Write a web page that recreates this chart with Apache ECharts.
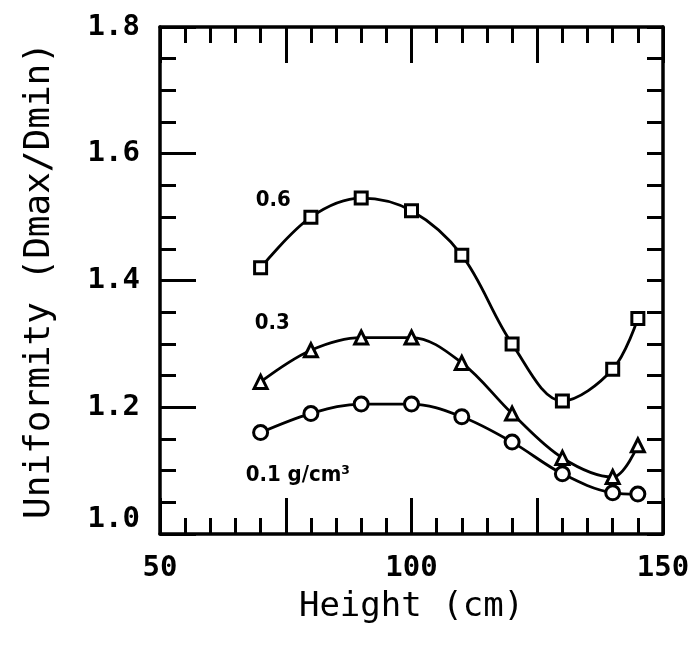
<!DOCTYPE html>
<html>
<head>
<meta charset="utf-8">
<script src="https://cdn.jsdelivr.net/npm/echarts@6/dist/echarts.min.js"></script>
<style>
  html, body { margin: 0; padding: 0; background: #fff; }
  #chart { width: 700px; height: 648px; }
</style>
</head>
<body>
<div id="chart"></div>
<script>
// Heights (cm) at which uniformity was measured
const heights = [70, 80, 90, 100, 110, 120, 130, 140, 145];
// Uniformity Dmax/Dmin for each product density
const density06 = [1.42, 1.50, 1.53, 1.51, 1.44, 1.30, 1.21, 1.26, 1.34];
const density03 = [1.24, 1.29, 1.31, 1.31, 1.27, 1.19, 1.12, 1.09, 1.14];
const density01 = [1.16, 1.19, 1.205, 1.205, 1.185, 1.145, 1.095, 1.065, 1.063];
// Tick labels
const xTickLabels = [50, 100, 150];
const yTickLabels = [1.0, 1.2, 1.4, 1.6, 1.8];
// Curve labels and their centre points (height, uniformity)
const curveLabels = ['0.6', '0.3', '0.1 g/cm³'];
const curveLabelAnchors = [[72.5, 1.527], [72.3, 1.333], [77.4, 1.092]];

const axisFont = 'DejaVu Sans Mono';
const ink = '#000';

function pairs(vals) { return heights.map((h, i) => [h, vals[i]]); }

function frameX(position, labels) {
  return {
    type: 'value', min: 50, max: 150, interval: 25, position: position,
    axisLine: { onZero: false, lineStyle: { color: ink, width: 3.5 } },
    axisTick: { inside: true, length: 36, lineStyle: { color: ink, width: 3 } },
    minorTick: { show: true, splitNumber: 5, length: 16, lineStyle: { color: ink, width: 3 } },
    splitLine: { show: false }, minorSplitLine: { show: false },
    axisLabel: labels ? {
      margin: 20, color: ink, fontFamily: axisFont, fontSize: 29, fontWeight: 'bold',
      formatter: v => xTickLabels.includes(v) ? String(v) : ''
    } : { show: false },
    name: labels ? 'Height (cm)' : '',
    nameLocation: 'middle', nameGap: 56,
    nameTextStyle: { color: ink, fontFamily: axisFont, fontSize: 34 }
  };
}

function frameY(position, labels) {
  return {
    type: 'value', min: 1.0, max: 1.8, interval: 0.2, position: position,
    axisLine: { onZero: false, lineStyle: { color: ink, width: 3.5 } },
    axisTick: { inside: true, length: labels ? 36 : 16, lineStyle: { color: ink, width: 3 } },
    minorTick: { show: true, splitNumber: 4, length: 16, lineStyle: { color: ink, width: 3 } },
    splitLine: { show: false }, minorSplitLine: { show: false },
    axisLabel: labels ? {
      margin: 20, color: ink, fontFamily: axisFont, fontSize: 29, fontWeight: 'bold',
      verticalAlignMinLabel: 'bottom',
      formatter: v => {
        const hit = yTickLabels.find(t => Math.abs(t - v) < 1e-6);
        return hit === undefined ? '' : hit.toFixed(1);
      }
    } : { show: false },
    name: labels ? 'Uniformity (Dmax/Dmin)' : '',
    nameLocation: 'middle', nameGap: 102, nameRotate: 90,
    nameTextStyle: { color: ink, fontFamily: axisFont, fontSize: 36 }
  };
}

function curve(vals, symbol, size, labelIdx) {
  return {
    type: 'line',
    data: pairs(vals),
    xAxisIndex: 0, yAxisIndex: 0,
    smooth: 0.35,
    symbol: symbol, symbolSize: size,
    showAllSymbol: true,
    lineStyle: { color: ink, width: 2.8 },
    itemStyle: { color: '#fff', borderColor: ink, borderWidth: 3 },
    emphasis: { disabled: true },
    z: 3,
    markPoint: {
      silent: true,
      symbol: 'circle', symbolSize: 0,
      data: [{
        coord: curveLabelAnchors[labelIdx],
        label: {
          show: true, position: 'inside',
          formatter: curveLabels[labelIdx],
          color: ink, fontFamily: 'DejaVu Sans Condensed, DejaVu Sans', fontWeight: 'bold', fontSize: 22
        }
      }]
    }
  };
}

const chart = echarts.init(document.getElementById('chart'), null, { renderer: 'canvas' });
chart.setOption({
  animation: false,
  backgroundColor: '#fff',
  grid: { left: 160, right: 37, top: 27, bottom: 114 },
  xAxis: [frameX('bottom', true), frameX('top', false)],
  yAxis: [frameY('left', true), frameY('right', false)],
  series: [
    curve(density06, 'rect', 12, 0),
    curve(density03, 'triangle', 13, 1),
    curve(density01, 'circle', 14, 2)
  ]
});
</script>
</body>
</html>
